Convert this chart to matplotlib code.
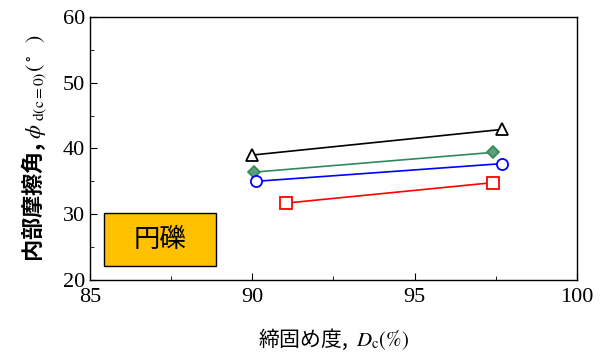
import matplotlib.pyplot as plt
from matplotlib.patches import Rectangle

plt.rcParams['font.family'] = ['Liberation Serif', 'Noto Sans CJK JP']
plt.rcParams['mathtext.fontset'] = 'stix'

# data
dc_black = [90.0, 97.7]
phi_black = [39.0, 42.9]
dc_green = [90.05, 97.4]
phi_green = [36.4, 39.4]
dc_blue = [90.1, 97.7]
phi_blue = [35.0, 37.7]
dc_red = [91.05, 97.4]
phi_red = [31.7, 34.8]

fig = plt.figure(figsize=(6.06, 3.61), dpi=100)
ax = fig.add_axes([0.1485, 0.2244, 0.8035, 0.7286])

ax.plot(dc_black, phi_black, color='black', lw=1.2, marker='^', ms=8,
        mfc='white', mec='black', mew=1.3)
ax.plot(dc_green, phi_green, color='#2e8b57', lw=1.2, marker='D', ms=6,
        mfc='#5f9e7a', mec='#2e8b57', mew=1.2)
ax.plot(dc_blue, phi_blue, color='blue', lw=1.2, marker='o', ms=8,
        mfc='white', mec='blue', mew=1.3)
ax.plot(dc_red, phi_red, color='red', lw=1.2, marker='s', ms=8,
        mfc='white', mec='red', mew=1.3)

ax.set_xlim(85, 100)
ax.set_ylim(20, 60)
ax.set_xticks([85, 90, 95, 100])
ax.set_yticks([20, 30, 40, 50, 60])
ax.set_xticks([87.5, 92.5, 97.5], minor=True)
ax.set_yticks([25, 35, 45, 55], minor=True)
ax.tick_params(direction='in', which='both', labelsize=16, top=False, right=False)
ax.tick_params(which='major', length=5)
ax.tick_params(which='minor', length=3)
ax.tick_params(axis='x', pad=6)
for s in ax.spines.values():
    s.set_linewidth(1.0)

ax.set_xlabel('締固め度,  $D_\\mathrm{c}(\\%)$', fontsize=15,
              family=['Noto Sans CJK JP', 'Liberation Serif'], labelpad=14)
ax.set_ylabel('内部摩擦角, $\\phi_\\mathrm{\\ d(c=0)}(^\\circ\\ \\ )$', fontsize=16,
              family=['Noto Sans CJK JP', 'Liberation Serif'],
              fontweight='bold', labelpad=10)

ax.add_patch(Rectangle((0.029, 0.053), 0.23, 0.202, transform=ax.transAxes,
                       facecolor='#ffc000', edgecolor='black', lw=1.0))
ax.text(0.144, 0.154, '円礫', transform=ax.transAxes, ha='center', va='center',
        fontsize=19, family='Noto Sans CJK JP')

plt.savefig('out.png')
